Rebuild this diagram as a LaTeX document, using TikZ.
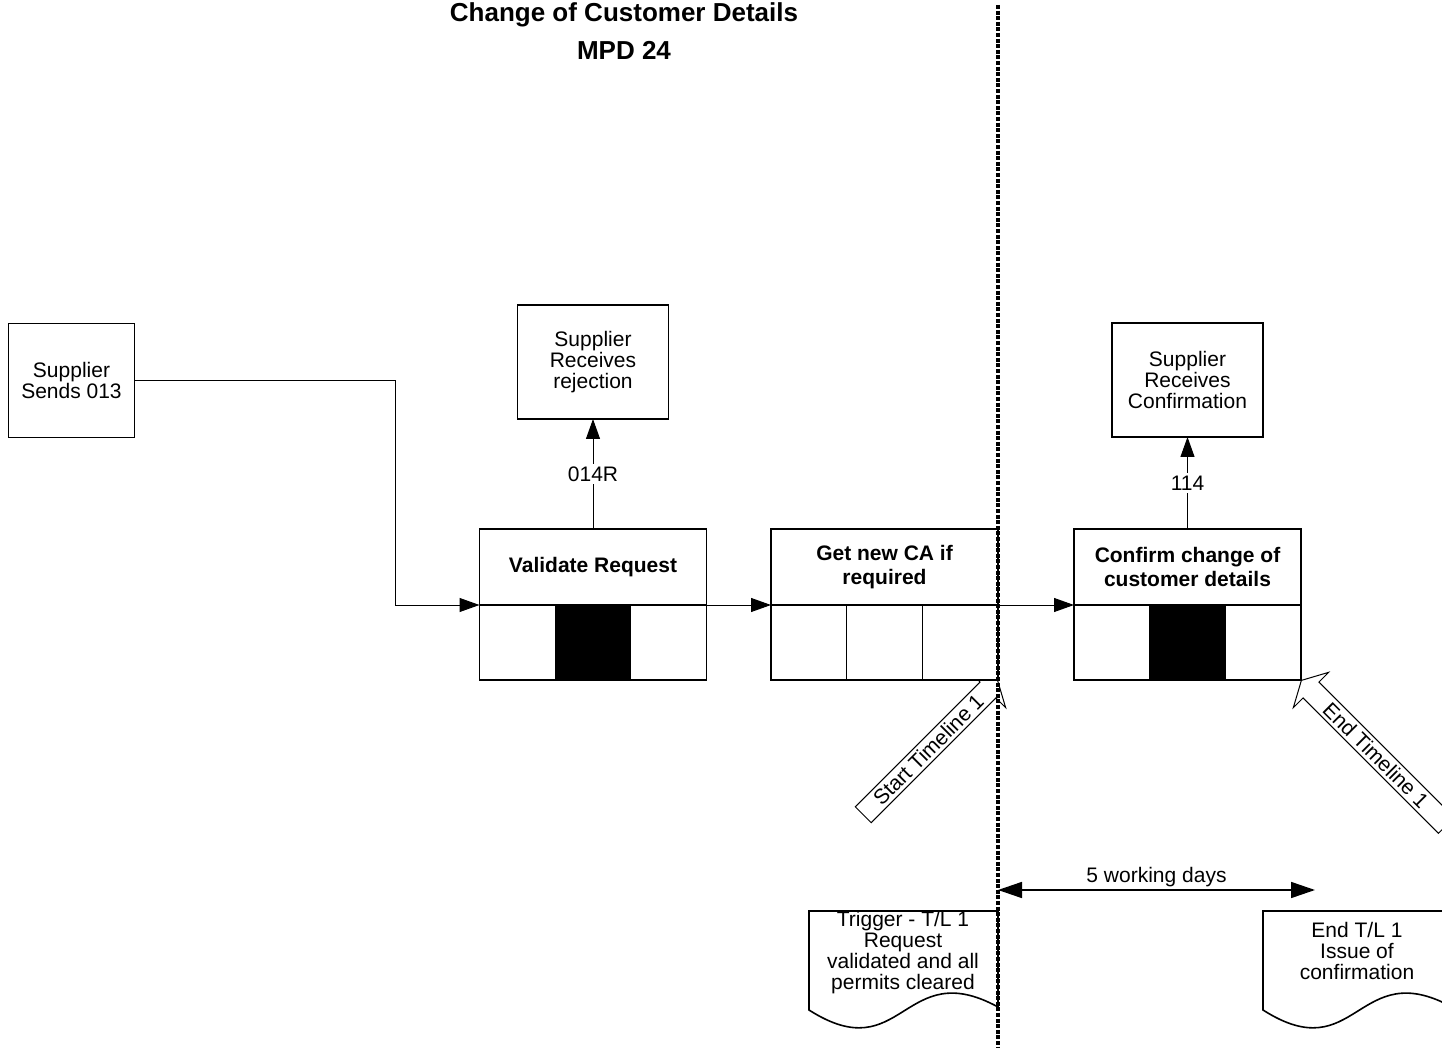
\documentclass[tikz,border=0pt]{standalone}
\usepackage{fontspec}
\setmainfont{Liberation Sans}
\usetikzlibrary{shapes,arrows.meta,positioning,calc,backgrounds}

\begin{document}
\begin{tikzpicture}[x=0.5pt, y=-0.5pt,
        every node/.style={font=\fontsize{10.5}{10.5}\selectfont},
        ext/.style={draw, fill=white, line width=0.9pt, minimum width=75.5pt, minimum height=57pt, align=center, outer sep=0pt},
        head/.style={draw, fill=white, line width=0.6pt, minimum width=113.5pt, minimum height=38pt, align=center, outer sep=0pt, font=\fontsize{10.5}{12}\selectfont\bfseries},
        cell/.style={draw, fill=white, line width=0.6pt, minimum width=37.83pt, minimum height=37.5pt, outer sep=0pt, inner sep=0pt},
        lbl/.style={fill=white, inner sep=1.5pt},
        tlarrow/.style={single arrow, draw, fill=white, line width=0.5pt, minimum width=25pt, single arrow head extend=6.25pt, single arrow tip angle=123, inner sep=1pt},
        doc/.style={draw, line width=0.8pt},
        divider/.style={line width=1.6pt, dash pattern=on 2pt off 0.8pt},
        >={Triangle[length=10pt,width=7pt]}
    ]
        \useasboundingbox (0,0) rectangle (1442,1048);

        \node[font=\fontsize{13}{19}\selectfont\bfseries, align=center, anchor=north, inner sep=0pt] (title) at (624,2) {Change of Customer Details\\MPD 24};

        \node[ext, minimum width=63pt] (sends) at (71.5,380.5) {Supplier\\Sends 013};

        % process boxes
        \node[head] (val) at (593,567) {Validate Request};
        \node[cell, below right=0pt and 0pt of val.south west] (val1) {};
        \node[cell, fill=black, right=0pt of val1] (val2) {};
        \node[cell, right=0pt of val2] (val3) {};

        \node[head, right=32.25pt of val] (getca) {Get new CA if\\required};
        \node[cell, below right=0pt and 0pt of getca.south west] (getca1) {};
        \node[cell, right=0pt of getca1] (getca2) {};
        \node[cell, right=0pt of getca2] (getca3) {};

        \node[head, right=38pt of getca] (conf) {Confirm change of\\customer details};
        \node[cell, below right=0pt and 0pt of conf.south west] (conf1) {};
        \node[cell, fill=black, right=0pt of conf1] (conf2) {};
        \node[cell, right=0pt of conf2] (conf3) {};

        \node[ext, above=55pt of val] (rej) {Supplier\\Receives\\rejection};
        \node[ext, above=46pt of conf] (recv) {Supplier\\Receives\\Confirmation};

        \draw[->, line width=0.5pt] (sends.east) -| ([xshift=-42.25pt]val.south west) -- (val.south west);
        \draw[->, line width=0.5pt] (val.south east) -- (getca.south west);
        \draw[->, line width=0.5pt] (getca.south east) -- (conf.south west);
        \draw[->, line width=0.5pt] (val) -- node[lbl] (rejlbl) {014R} (rej);
        \draw[->, line width=0.5pt] (conf) -- node[lbl] (recvlbl) {114} (recv);

        % timeline arrows
        \begin{scope}[on background layer]
            \node[tlarrow, rotate=45, anchor=tip, minimum height=95pt] (starttl) at (getca3.south east) {Start Timeline 1};
            \node[tlarrow, rotate=-45, shape border rotate=180, anchor=tip, minimum height=102.5pt] (endtl) at (conf3.south east) {End Timeline 1};
        \end{scope}

        % documents
        \draw[doc] (809,1010) -- (809,911) -- (998,911) -- (998,1007) .. controls (903,955) and (903,1070) .. (809,1010) -- cycle;
        \node[align=center] (trig) at (903,953) {Trigger - T/L 1\\Request\\validated and all\\permits cleared};
        \draw[doc] (1263,1010) -- (1263,911) -- (1452,911) -- (1452,1007) .. controls (1357,955) and (1357,1070) .. (1263,1010) -- cycle;
        \node[align=center] (endtxt) at (1357,951) {End T/L 1\\Issue of\\confirmation};

        \coordinate (wdl) at (998,890);
        \coordinate (wdr) at (1315,890);
        \draw[{Triangle[length=12pt,width=8pt]}-{Triangle[length=12pt,width=8pt]}, line width=0.8pt] (wdl) -- node[above, inner sep=1pt] (wd) {5 working days} (wdr);

        \coordinate (divtop) at (998,5);
        \coordinate (divbot) at (998,1048);
        \draw[divider] (divtop) -- (divbot);
    \end{tikzpicture}
\end{document}
